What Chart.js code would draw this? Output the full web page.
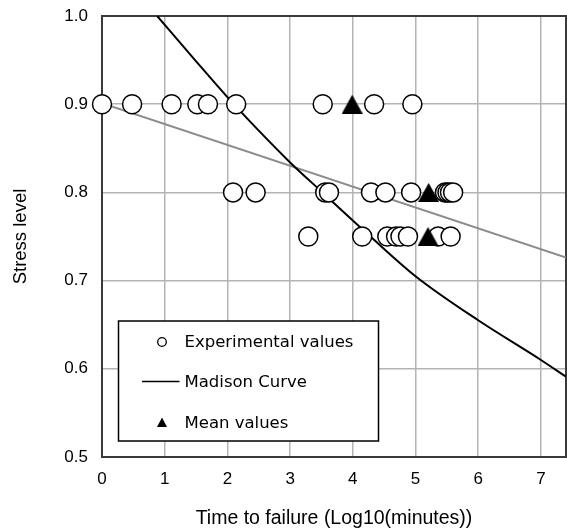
<!DOCTYPE html>
<html>
<head>
<meta charset="utf-8">
<script src="https://cdn.jsdelivr.net/npm/chart.js@4"></script>
<style>
html,body{margin:0;padding:0;background:#fff;}
#wrap{width:567px;height:531px;position:relative;}
</style>
</head>
<body>
<div id="wrap"><canvas id="c" width="567" height="531"></canvas></div>
<script>
// ---- data ----
const stress09X = [0.00, 0.48, 1.11, 1.52, 1.69, 2.14, 3.52, 4.34, 4.95];
const stress08X = [2.09, 2.45, 3.56, 3.62, 4.29, 4.52, 4.93, 5.47, 5.51, 5.55, 5.60];
const stress075X = [3.29, 4.15, 4.55, 4.69, 4.76, 4.88, 5.36, 5.56];
const meanX = [3.99, 5.21, 5.20];
const meanY = [0.90, 0.80, 0.75];
const madisonX = [0.88, 1.46, 2.00, 2.50, 3.00, 3.50, 4.25, 5.00, 6.00, 7.00, 7.40];
const madisonY = [1.000, 0.952, 0.908, 0.870, 0.834, 0.801, 0.752, 0.705, 0.655, 0.610, 0.591];
const trendX = [0.00, 7.40];
const trendY = [0.901, 0.726];
const xTicks = [0, 1, 2, 3, 4, 5, 6, 7];
const yTicks = [0.5, 0.6, 0.7, 0.8, 0.9, 1.0];
const seriesLabels = ['Experimental values', 'Madison Curve', 'Mean values'];
const xTitle = 'Time to failure (Log10(minutes))';
const yTitle = 'Stress level';

const expPoints = []
  .concat(stress09X.map(x => ({x, y: 0.9})))
  .concat(stress08X.map(x => ({x, y: 0.8})))
  .concat(stress075X.map(x => ({x, y: 0.75})));
const meanPoints = meanX.map((x, i) => ({x, y: meanY[i]}));
const madisonPoints = madisonX.map((x, i) => ({x, y: madisonY[i]}));
const trendPoints = trendX.map((x, i) => ({x, y: trendY[i]}));

// triangle marker image
function triImg(w, h) {
  const c = document.createElement('canvas');
  c.width = w; c.height = h;
  const g = c.getContext('2d');
  g.fillStyle = '#000';
  g.beginPath();
  g.moveTo(w / 2, 0);
  g.lineTo(w, h);
  g.lineTo(0, h);
  g.closePath();
  g.fill();
  return c;
}
const triangle = triImg(21, 19);

const FRAME = '#3a3a3a';
const GRID = '#b4b4b4';

const framePlugin = {
  id: 'frame',
  beforeDatasetsDraw(chart) {
    const {ctx, chartArea: a} = chart;
    ctx.save();
    ctx.strokeStyle = FRAME;
    ctx.lineWidth = 2;
    ctx.strokeRect(a.left, a.top, a.right - a.left, a.bottom - a.top);
    ctx.restore();
  }
};

const legendPlugin = {
  id: 'boxLegend',
  afterDatasetsDraw(chart) {
    const {ctx, chartArea: a} = chart;
    const bx = a.left + 16.5, by = a.bottom - 136, bw = 260, bh = 120;
    ctx.save();
    ctx.fillStyle = '#fff';
    ctx.fillRect(bx, by, bw, bh);
    ctx.strokeStyle = '#000';
    ctx.lineWidth = 1.5;
    ctx.strokeRect(bx, by, bw, bh);
    const mx = bx + 43.5, tx = bx + 66;
    const rows = [by + 21, by + 60.5, by + 102];
    ctx.beginPath();
    ctx.arc(mx, rows[0], 4.3, 0, Math.PI * 2);
    ctx.lineWidth = 1.3;
    ctx.strokeStyle = '#000';
    ctx.stroke();
    ctx.beginPath();
    ctx.moveTo(bx + 23.5, rows[1]);
    ctx.lineTo(bx + 61, rows[1]);
    ctx.lineWidth = 1.5;
    ctx.stroke();
    ctx.beginPath();
    ctx.moveTo(mx, rows[2] - 5.5);
    ctx.lineTo(mx + 5, rows[2] + 4);
    ctx.lineTo(mx - 5, rows[2] + 4);
    ctx.closePath();
    ctx.fillStyle = '#000';
    ctx.fill();
    ctx.font = '16.5px "DejaVu Sans"';
    ctx.textBaseline = 'middle';
    ctx.fillStyle = '#000';
    seriesLabels.forEach((t, i) => ctx.fillText(t, tx, rows[i] + 1));
    ctx.restore();
  }
};

new Chart(document.getElementById('c'), {
  type: 'scatter',
  data: {
    datasets: [
      {
        label: seriesLabels[2],
        data: meanPoints,
        pointStyle: triangle,
        pointRadius: 10,
        clip: false,
        order: 0
      },
      {
        label: seriesLabels[0],
        data: expPoints,
        pointStyle: 'circle',
        pointRadius: 9.5,
        pointBorderWidth: 1.5,
        pointBorderColor: '#000',
        pointBackgroundColor: '#fff',
        clip: false,
        order: 1
      },
      {
        label: seriesLabels[1],
        data: madisonPoints,
        showLine: true,
        borderColor: '#000',
        borderWidth: 2,
        pointRadius: 0,
        cubicInterpolationMode: 'monotone',
        order: 2
      },
      {
        label: 'trend',
        data: trendPoints,
        showLine: true,
        borderColor: '#8c8c8c',
        borderWidth: 2,
        pointRadius: 0,
        order: 3
      }
    ]
  },
  options: {
    responsive: false,
    animation: false,
    events: [],
    layout: {autoPadding: false, padding: {top: 16, right: 1, left: 0, bottom: 0}},
    plugins: {legend: {display: false}, tooltip: {enabled: false}},
    scales: {
      x: {
        type: 'linear',
        min: 0, max: 7.4,
        afterBuildTicks(scale) { scale.ticks = xTicks.map(v => ({value: v})); },
        afterFit(scale) { scale.height = 74; scale.paddingLeft = 0; scale.paddingRight = 0; },
        grid: {color: GRID, lineWidth: 1.5, drawTicks: false},
        border: {display: false},
        ticks: {
          color: '#000', padding: 12,
          font: {family: '"Liberation Sans", Arial', size: 17},
          callback: v => String(v)
        },
        title: {
          display: true, text: xTitle, color: '#000',
          font: {family: '"Liberation Sans", Arial', size: 19.5},
          padding: {top: 0, bottom: 1}
        }
      },
      y: {
        type: 'linear',
        min: 0.5, max: 1.0,
        afterBuildTicks(scale) { scale.ticks = yTicks.map(v => ({value: v})); },
        afterFit(scale) { scale.width = 102; scale.paddingTop = 0; scale.paddingBottom = 0; },
        grid: {color: GRID, lineWidth: 1.5, drawTicks: false},
        border: {display: false},
        ticks: {
          color: '#000', padding: 14,
          font: {family: '"Liberation Sans", Arial', size: 17},
          callback: v => Number(v).toFixed(1)
        },
        title: {
          display: true, text: yTitle, color: '#000',
          font: {family: '"Liberation Sans", Arial', size: 18.5},
          padding: {top: 10, bottom: 0}
        }
      }
    }
  },
  plugins: [framePlugin, legendPlugin]
});
</script>
</body>
</html>
